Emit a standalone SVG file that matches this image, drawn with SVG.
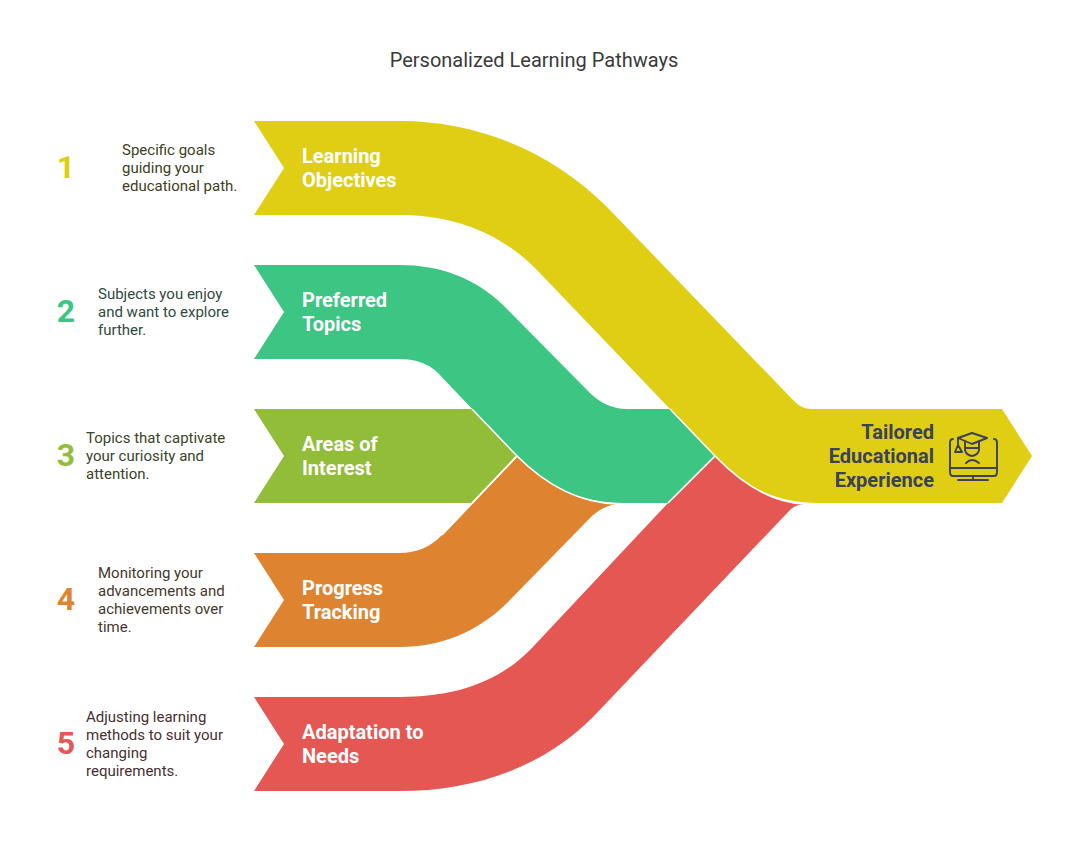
<svg xmlns="http://www.w3.org/2000/svg" width="1068" height="864" viewBox="0 0 1068 864">
<style>
text{font-family:Roboto,"Liberation Sans",sans-serif}
.t{font-size:20px;fill:#3a3a3a}
.l{font-size:20px;font-weight:700;fill:#fff}
.d{font-size:15px}
.n{font-size:32px;font-weight:700}
.s{fill:none;stroke:#fff;stroke-width:1.6}
.i{fill:none;stroke:#3b4258;stroke-width:1.9;stroke-linejoin:round;stroke-linecap:round}
</style>
<rect width="1068" height="864" fill="#fff"/>
<text class="t" x="534" y="67" text-anchor="middle">Personalized Learning Pathways</text>
<g id="node-3">
<path d="M254 409H472L517 456L472 503H254L284 456Z" fill="#92BD39"/>
<text class="l"><tspan x="302" y="451">Areas of</tspan><tspan x="302" y="475">Interest</tspan></text>
<text class="n" x="66" y="466" text-anchor="middle" fill="#92BD39">3</text>
<text class="d" fill="#3a4428"><tspan x="86" y="443">Topics that captivate</tspan><tspan x="86" y="461">your curiosity and</tspan><tspan x="86" y="479">attention.</tspan></text>
</g>
<g id="node-4">
<path d="M254 553H400C414 553 430 548 442 535L517 456C548 487 580 503 617 504C605 506 597 511 590 518L507 603C478 632 440 647 400 647H254L284 600Z" fill="#DE8431"/>
<text class="l"><tspan x="302" y="595">Progress</tspan><tspan x="302" y="619">Tracking</tspan></text>
<text class="n" x="66" y="610" text-anchor="middle" fill="#DE8431">4</text>
<text class="d" fill="#46382a"><tspan x="98" y="578">Monitoring your</tspan><tspan x="98" y="596">advancements and</tspan><tspan x="98" y="614">achievements over</tspan><tspan x="98" y="632">time.</tspan></text>
</g>
<g id="node-2">
<path d="M254 265H400C440 265 475 278 503 305L590 393C600 403 613 409 627 409H670L715 456L668 503H625C580 503 548 487 517 456L438 373C428 363 414 359 400 359H254L284 312Z" fill="#3CC583"/>
<text class="l"><tspan x="302" y="307">Preferred</tspan><tspan x="302" y="331">Topics</tspan></text>
<text class="n" x="66" y="322" text-anchor="middle" fill="#3CC583">2</text>
<text class="d" fill="#2f4a3e"><tspan x="98" y="299">Subjects you enjoy</tspan><tspan x="98" y="317">and want to explore</tspan><tspan x="98" y="335">further.</tspan></text>
</g>
<g id="node-5">
<path d="M254 697H400C450 697 495 685 530 650L668 503L715 456C745 487 775 503 804 504C797 505 793 507 790 510L593 717C540 770 470 791 400 791H254L284 744Z" fill="#E55753"/>
<text class="l"><tspan x="302" y="739">Adaptation to</tspan><tspan x="302" y="763">Needs</tspan></text>
<text class="n" x="66" y="754" text-anchor="middle" fill="#E55753">5</text>
<text class="d" fill="#472f2d"><tspan x="86" y="722">Adjusting learning</tspan><tspan x="86" y="740">methods to suit your</tspan><tspan x="86" y="758">changing</tspan><tspan x="86" y="776">requirements.</tspan></text>
</g>
<g id="node-1">
<path d="M254 121H400C478 121 552 152 607 207L793 400C799 406 804 409 812 409H1002L1032 456L1002 503H818C775 503 745 487 715 456L537 270C500 232 452 215 400 215H254L284 168Z" fill="#DFCE14"/>
<text class="l"><tspan x="302" y="163">Learning</tspan><tspan x="302" y="187">Objectives</tspan></text>
<text class="n" x="66" y="178" text-anchor="middle" fill="#DFCE14">1</text>
<text class="d" fill="#403d1c"><tspan x="122" y="155">Specific goals</tspan><tspan x="122" y="173">guiding your</tspan><tspan x="122" y="191">educational path.</tspan></text>
</g>
<g id="node-6">
<text class="l" text-anchor="end" style="fill:#3b4258"><tspan x="934" y="439">Tailored</tspan><tspan x="934" y="463">Educational</tspan><tspan x="934" y="487">Experience</tspan></text>
<g class="i">
<path d="M953 439Q950 439 950 443V472Q950 476 953 476H994Q997 476 997 472V443Q997 439 994 439"/>
<path d="M950 468H997M973 476V480M958 480H988"/>
<path d="M958 438L972 433L987 438L972 444Z"/>
<path d="M958 438V445M955 452L958 445L962 452Z"/>
<path d="M965 442V450Q966 455 972 456Q978 455 979 450V442M965 448H979"/>
<path d="M966 463Q972 457 979 463"/>
</g>
</g>
<g id="connectors">
<path class="s" d="M472 409L517 456L472 503"/>
<path class="s" d="M442 535L517 456C548 487 580 503 617 504"/>
<path class="s" d="M670 409L715 456L668 503"/>
<path class="s" d="M715 456C745 487 775 503 804 504"/>
</g>
</svg>
